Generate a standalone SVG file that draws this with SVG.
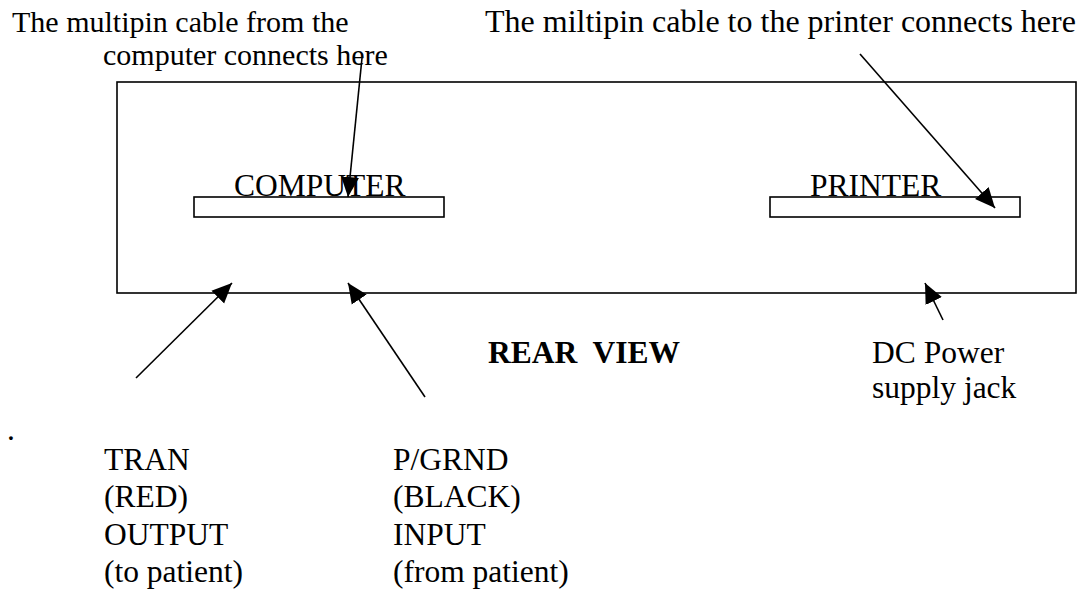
<svg xmlns="http://www.w3.org/2000/svg" width="1082" height="593" viewBox="0 0 1082 593">
<style>
text{font-family:"Liberation Serif","Times New Roman",serif;font-size:31.5px;fill:#000}
.b{font-weight:bold}
.s30{font-size:30px}
.s32{font-size:32px}
.box{fill:#fff;stroke:#000;stroke-width:1.6}
.ln{stroke:#000;stroke-width:1.6;fill:none}
</style>
<defs>
<marker id="ah" markerUnits="userSpaceOnUse" viewBox="0 0 20 20" refX="20" refY="10" markerWidth="20" markerHeight="20" orient="auto">
<path d="M0,1 L20,10 L0,19 z" fill="#000"/>
</marker>
</defs>
<rect width="1082" height="593" fill="#fff"/>
<g id="panel">
<rect class="box" x="117" y="82" width="959" height="211"/>
<text x="488" y="363" class="b" xml:space="preserve">REAR  VIEW</text>
</g>
<g id="computer-port">
<rect class="box" x="194" y="197" width="250" height="20"/>
<text x="234" y="196">COMPUTER</text>
</g>
<g id="printer-port">
<rect class="box" x="770" y="197" width="250" height="20"/>
<text x="810" y="196">PRINTER</text>
</g>
<g id="label-computer-cable">
<text class="s30" x="12" y="32">The multipin cable from the</text>
<text class="s30" x="103" y="65">computer connects here</text>
</g>
<g id="label-printer-cable">
<text class="s32" x="485" y="32">The miltipin cable to the printer connects here</text>
</g>
<g id="label-dc">
<text x="872" y="363">DC Power</text>
<text x="872" y="398">supply jack</text>
</g>
<g id="label-tran">
<text x="104" y="470">TRAN</text>
<text x="104" y="507">(RED)</text>
<text x="104" y="545">OUTPUT</text>
<text x="104" y="582">(to patient)</text>
</g>
<g id="label-pgrnd">
<text x="393" y="470">P/GRND</text>
<text x="393" y="507">(BLACK)</text>
<text x="393" y="545">INPUT</text>
<text x="393" y="582">(from patient)</text>
</g>
<text x="7" y="440">.</text>
<g id="connectors">
<line class="ln" x1="362" y1="58" x2="348" y2="197" marker-end="url(#ah)"/>
<line class="ln" x1="860" y1="54" x2="995" y2="208" marker-end="url(#ah)"/>
<line class="ln" x1="136" y1="378" x2="232" y2="283" marker-end="url(#ah)"/>
<line class="ln" x1="425" y1="397" x2="348" y2="283" marker-end="url(#ah)"/>
<line class="ln" x1="943" y1="320" x2="925" y2="283" marker-end="url(#ah)"/>
</g>
</svg>
